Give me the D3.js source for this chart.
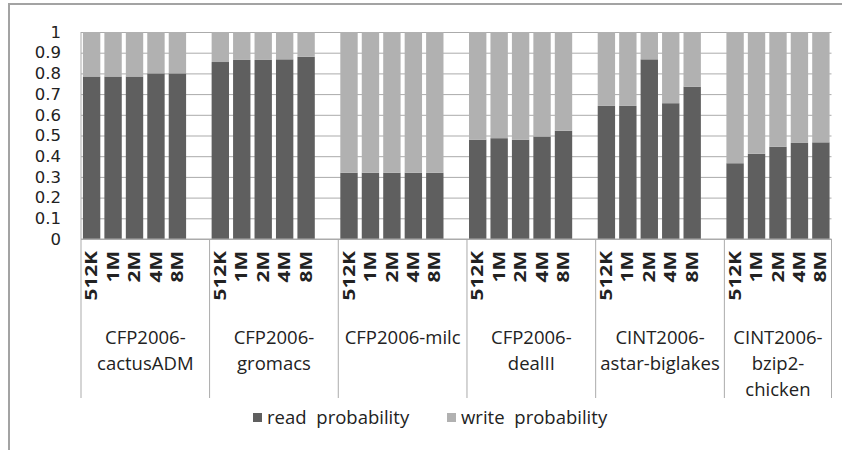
<!DOCTYPE html>
<html>
<head>
<meta charset="utf-8">
<script src="https://cdn.jsdelivr.net/npm/d3@7"></script>
<style>
    body { margin: 0; background: #fff; }
    svg { display: block; }
    text { font-family: "Open Sans", sans-serif; fill: #222; }
</style>
</head>
<body>
<svg id="chart" width="842" height="450"></svg>
<script>
// benchmark groups, label broken in lines like the original
const benchmarks = ["CFP2006-cactusADM", "CFP2006-gromacs", "CFP2006-milc", "CFP2006-dealII", "CINT2006-astar-biglakes", "CINT2006-bzip2-chicken"];
const benchmarkLines = [
    ["CFP2006-", "cactusADM"],
    ["CFP2006-", "gromacs"],
    ["CFP2006-milc"],
    ["CFP2006-", "dealII"],
    ["CINT2006-", "astar-biglakes"],
    ["CINT2006-", "bzip2-", "chicken"]
];

// cache sizes inside each group
const cacheSizes = ["512K", "1M", "2M", "4M", "8M"];

// read probability per group (one value per cache size)
const readProbability = [
    [0.785, 0.785, 0.785, 0.800, 0.800],
    [0.855, 0.865, 0.865, 0.868, 0.880],
    [0.320, 0.320, 0.320, 0.320, 0.320],
    [0.480, 0.487, 0.480, 0.495, 0.523],
    [0.643, 0.643, 0.868, 0.656, 0.736],
    [0.366, 0.412, 0.446, 0.464, 0.467]
];

// write probability per group
const writeProbability = [
    [0.215, 0.215, 0.215, 0.200, 0.200],
    [0.145, 0.135, 0.135, 0.132, 0.120],
    [0.680, 0.680, 0.680, 0.680, 0.680],
    [0.520, 0.513, 0.520, 0.505, 0.477],
    [0.357, 0.357, 0.132, 0.344, 0.264],
    [0.634, 0.588, 0.554, 0.536, 0.533]
];

const yTicks = [0, 0.1, 0.2, 0.3, 0.4, 0.5, 0.6, 0.7, 0.8, 0.9, 1];
const seriesKeys = ["read", "write"];
const seriesNames = ["read probability", "write probability"];
const seriesColors = ["#5f5f5f", "#b1b1b1"];

// layout
const plot = {left: 81, right: 831.5, top: 32, bottom: 239};
const labelBottom = 398;
const gridColor = "#ababab";

const svg = d3.select("#chart");

// outer frame (top and left edges visible)
svg.append("path")
    .attr("d", "M842,4H9V450")
    .attr("fill", "none")
    .attr("stroke", "#a3a3a3")
    .attr("stroke-width", 2);

// slots: 5 bars per group + one empty slot between groups
const slots = [];
const rows = [];
benchmarks.forEach((b, gi) => {
    cacheSizes.forEach((s, si) => {
        const key = gi + "|" + s;
        slots.push(key);
        rows.push({key, size: s, read: readProbability[gi][si], write: writeProbability[gi][si]});
    });
    if (gi < benchmarks.length - 1) slots.push(gi + "|gap");
});

const x = d3.scaleBand()
    .domain(slots)
    .range([plot.left, plot.right])
    .paddingInner(0.19)
    .paddingOuter(0.09);

const y = d3.scaleLinear().domain([0, 1]).range([plot.bottom, plot.top]);

// gridlines
const grid = svg.append("g")
    .attr("transform", `translate(${plot.left},0)`)
    .call(d3.axisLeft(y).tickValues(yTicks).tickSize(-(plot.right - plot.left)).tickFormat(""));
grid.select(".domain").remove();
grid.selectAll("line").attr("stroke", gridColor);

// y tick labels
const yAxis = svg.append("g")
    .attr("transform", `translate(${plot.left},0)`)
    .call(d3.axisLeft(y).tickValues(yTicks).tickSize(0).tickPadding(20).tickFormat(d3.format("")));
yAxis.select(".domain").remove();
yAxis.selectAll("text")
    .style("font-family", "'DejaVu Sans', sans-serif")
    .style("font-size", "16.5px")
    .attr("fill", "#222");

// stacked bars
const stacked = d3.stack().keys(seriesKeys)(rows);
svg.append("g")
    .selectAll("g")
    .data(stacked)
    .join("g")
    .attr("fill", (d, i) => seriesColors[i])
    .selectAll("rect")
    .data(d => d)
    .join("rect")
    .attr("x", d => x(d.data.key))
    .attr("width", x.bandwidth())
    .attr("y", d => y(d[1]))
    .attr("height", d => y(d[0]) - y(d[1]));

// plot frame: left and bottom
svg.append("path")
    .attr("d", `M${plot.left},${plot.top}V${plot.bottom}H${plot.right}`)
    .attr("fill", "none")
    .attr("stroke", gridColor);

// group separators in the label area
const halfGap = x.step() * x.paddingInner() / 2;
const bounds = [plot.left];
benchmarks.forEach((b, gi) => {
    if (gi > 0) bounds.push(x(gi + "|" + cacheSizes[0]) - halfGap);
});
bounds.push(plot.right);

svg.append("g")
    .selectAll("line")
    .data(bounds)
    .join("line")
    .attr("x1", d => d).attr("x2", d => d)
    .attr("y1", plot.bottom).attr("y2", labelBottom)
    .attr("stroke", gridColor);

// rotated cache size labels
svg.append("g")
    .selectAll("text")
    .data(rows)
    .join("text")
    .attr("transform", d => `translate(${x(d.key) + x.bandwidth() / 2},251) rotate(-90) scale(1.3,1)`)
    .attr("text-anchor", "end")
    .attr("dy", "0.35em")
    .style("font-size", "16px")
    .style("font-weight", "bold")
    .text(d => d.size);

// benchmark labels
const groupLabels = svg.append("g")
    .selectAll("text")
    .data(benchmarkLines)
    .join("text")
    .attr("text-anchor", "middle")
    .style("font-size", "18.5px")
    .attr("transform", (d, i) => `translate(${(bounds[i] + bounds[i + 1]) / 2},344)`);
groupLabels.selectAll("tspan")
    .data(d => d)
    .join("tspan")
    .attr("x", 0)
    .attr("y", (d, i) => i * 26)
    .text(d => d);

// legend
const legendX = [253, 447];
const legend = svg.append("g")
    .selectAll("g")
    .data(seriesNames)
    .join("g")
    .attr("transform", (d, i) => `translate(${legendX[i]},413)`);
legend.append("rect")
    .attr("width", 9).attr("height", 9)
    .attr("fill", (d, i) => seriesColors[i]);
legend.append("text")
    .attr("x", 14).attr("y", 11)
    .style("font-size", "18.5px")
    .style("word-spacing", "5px")
    .text(d => d);
</script>
</body>
</html>
